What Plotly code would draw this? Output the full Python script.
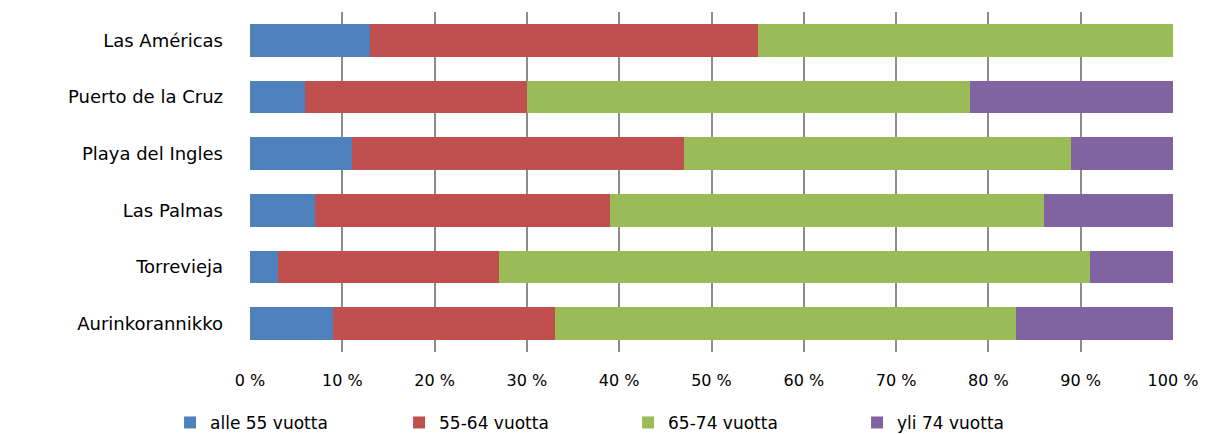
import plotly.graph_objects as go

categories = ["Las Américas", "Puerto de la Cruz", "Playa del Ingles", "Las Palmas", "Torrevieja", "Aurinkorannikko"]
series_names = ["alle 55 vuotta", "55-64 vuotta", "65-74 vuotta", "yli 74 vuotta"]
alle55 = [13, 6, 11, 7, 3, 9]
v55_64 = [42, 24, 36, 32, 24, 24]
v65_74 = [45, 48, 42, 47, 64, 50]
yli74 = [0, 22, 11, 14, 9, 17]
colors = ["#4F81BD", "#C0504D", "#9BBB59", "#8064A2"]
tick_vals = [0, 10, 20, 30, 40, 50, 60, 70, 80, 90, 100]
tick_text = ["0 %", "10 %", "20 %", "30 %", "40 %", "50 %", "60 %", "70 %", "80 %", "90 %", "100 %"]

fig = go.Figure()
for name, vals, col in zip(series_names, [alle55, v55_64, v65_74, yli74], colors):
    fig.add_trace(go.Bar(y=categories, x=vals, name=name, orientation="h",
                         marker=dict(color=col, line=dict(width=0))))

FONT = "DejaVu Sans, Liberation Sans, sans-serif"
fig.update_layout(
    barmode="stack",
    bargap=0.42,
    width=1213, height=426,
    margin=dict(l=242, r=48, t=4, b=82, autoexpand=False),
    paper_bgcolor="white", plot_bgcolor="white",
    font=dict(family=FONT, color="#000000"),
    xaxis=dict(range=[0, 100], tickvals=tick_vals, ticktext=tick_text,
               showgrid=True, gridcolor="#8C8C8C", gridwidth=2,
               zeroline=False, showline=False, ticks="",
               ticklabelstandoff=17, tickfont=dict(size=16)),
    yaxis=dict(categoryorder="array", categoryarray=categories[::-1],
               showgrid=False, zeroline=False, showline=False, ticks="",
               ticklabelstandoff=26, tickfont=dict(size=18)),
    legend=dict(orientation="h", xref="container", yref="container",
                x=0.1336, xanchor="left", y=0.026, yanchor="middle",
                font=dict(size=17), traceorder="normal",
                entrywidth=184, entrywidthmode="pixels"),
    showlegend=True,
)
fig.write_html("out.html")
